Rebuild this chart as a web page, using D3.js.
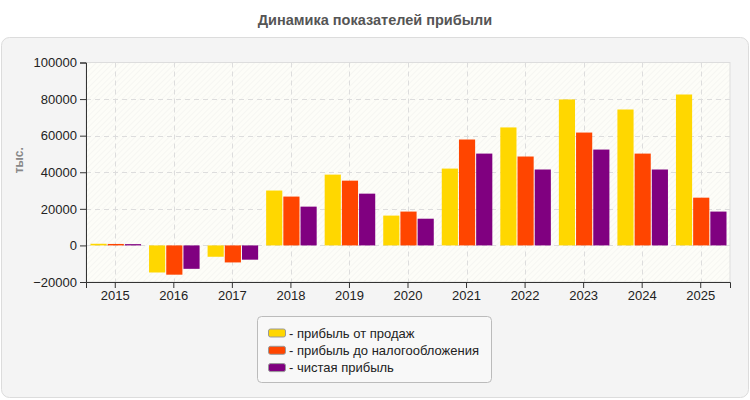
<!DOCTYPE html>
<html>
<head>
<meta charset="utf-8">
<script src="https://cdn.jsdelivr.net/npm/d3@7"></script>
<style>
	body { margin: 0; background: #fff; font-family: Arial, "Liberation Sans", sans-serif; }
	.tick text { font-size: 13px; fill: #222; font-family: Arial, "Liberation Sans", sans-serif; }
	.legend text { font-size: 13px; fill: #222; }
</style>
</head>
<body>
<div class="chart"></div>
<script>
const WIDTH = 750
const HEIGHT = 400

const years = ['2015', '2016', '2017', '2018', '2019', '2020', '2021', '2022', '2023', '2024', '2025']
const salesProfit = [900, -14800, -6200, 30000, 38700, 16300, 42000, 64500, 79800, 74300, 82500]
const pretaxProfit = [800, -16000, -9300, 26700, 35400, 18500, 57900, 48600, 61700, 50200, 26100]
const netProfit = [700, -12800, -7800, 21200, 28300, 14600, 50200, 41500, 52400, 41500, 18500]
const seriesNames = ['- прибыль от продаж', '- прибыль до налогообложения', '- чистая прибыль']
const COLORS = ['#ffd700', '#ff4500', '#800080']
const yTicks = [-20000, 0, 20000, 40000, 60000, 80000, 100000]

const series = [salesProfit, pretaxProfit, netProfit]
const data = years.map((y, i) => ({ year: y, values: series.map(s => s[i]) }))

const plot = { left: 86, right: 730, top: 62.5, bottom: 282 }

const svg = d3.select('.chart').append('svg')
	.attr('width', WIDTH)
	.attr('height', HEIGHT)

const defs = svg.append('defs')
const pattern = defs.append('pattern')
	.attr('id', 'hatch')
	.attr('patternUnits', 'userSpaceOnUse')
	.attr('width', 4)
	.attr('height', 4)
	.attr('patternTransform', 'rotate(45)')
pattern.append('rect').attr('width', 4).attr('height', 4).attr('fill', '#fdfdf8')
pattern.append('line')
	.attr('x1', 0).attr('y1', 0).attr('x2', 0).attr('y2', 4)
	.attr('stroke', '#f2f2ee').attr('stroke-width', 1.2)

// title
svg.append('text')
	.attr('x', WIDTH / 2)
	.attr('y', 25)
	.attr('text-anchor', 'middle')
	.style('font-size', '14.5px')
	.style('font-weight', 'bold')
	.style('fill', '#555')
	.text('Динамика показателей прибыли')

// panel
svg.append('rect')
	.attr('x', 1.5).attr('y', 37.5)
	.attr('width', WIDTH - 3).attr('height', HEIGHT - 40)
	.attr('rx', 8)
	.attr('fill', '#f4f4f4')
	.attr('stroke', '#dcdcdc')

const x = d3.scaleBand()
	.domain(years)
	.range([plot.left, plot.right])
	.padding(0)

const x1 = d3.scaleBand()
	.domain(d3.range(series.length))
	.range([4.5, x.bandwidth() - 3.5])
	.paddingInner(0.06)

const y = d3.scaleLinear()
	.domain([-20000, 100000])
	.range([plot.bottom, plot.top])

// plot background
svg.append('rect')
	.attr('x', plot.left).attr('y', plot.top)
	.attr('width', plot.right - plot.left).attr('height', plot.bottom - plot.top)
	.attr('fill', 'url(#hatch)')
	.attr('stroke', '#dddddd')

// grid
const grid = svg.append('g').attr('class', 'grid')
grid.selectAll('.hgrid').data(yTicks.slice(1, -1).concat([0]))
	.join('line')
	.attr('x1', plot.left).attr('x2', plot.right)
	.attr('y1', d => Math.round(y(d)) + 0.5).attr('y2', d => Math.round(y(d)) + 0.5)
	.attr('stroke', '#dddddd')
	.attr('stroke-dasharray', '5,4')
grid.selectAll('.vgrid').data(years)
	.join('line')
	.attr('x1', d => Math.round(x(d) + x.bandwidth() / 2) + 0.5)
	.attr('x2', d => Math.round(x(d) + x.bandwidth() / 2) + 0.5)
	.attr('y1', plot.top).attr('y2', plot.bottom)
	.attr('stroke', '#dddddd')
	.attr('stroke-dasharray', '5,4')

// bars
const groups = svg.append('g').selectAll('g')
	.data(data)
	.join('g')
	.attr('transform', d => `translate(${x(d.year)},0)`)

groups.selectAll('rect')
	.data(d => d.values)
	.join('rect')
	.attr('x', (d, i) => x1(i))
	.attr('width', x1.bandwidth())
	.attr('y', d => y(Math.max(0, d)))
	.attr('height', d => Math.abs(y(d) - y(0)))
	.attr('fill', (d, i) => COLORS[i])

// axes
const axisY = svg.append('g')
	.attr('transform', `translate(${plot.left},0)`)
	.call(d3.axisLeft(y).tickValues(yTicks).tickFormat(d3.format('d')).tickSizeOuter(0).tickSize(6))
axisY.select('.domain').attr('stroke', '#333')
axisY.selectAll('.tick line').attr('stroke', '#333')
axisY.selectAll('.tick text').attr('x', -9)

const axisX = svg.append('g')
	.attr('transform', `translate(0,${plot.bottom})`)
	.call(d3.axisBottom(x).tickSizeOuter(0).tickSize(6))
axisX.select('.domain').attr('stroke', '#333')
axisX.selectAll('.tick line').attr('stroke', '#333')
axisX.selectAll('.tick text').attr('y', 9)

svg.append('text')
	.attr('transform', `translate(23,${(plot.top + plot.bottom) / 2 - 12}) rotate(-90)`)
	.attr('text-anchor', 'middle')
	.style('font-size', '12px')
	.style('font-weight', 'bold')
	.style('fill', '#888')
	.text('тыс.')

// legend
const legend = svg.append('g').attr('class', 'legend')
legend.append('rect')
	.attr('x', 257.5).attr('y', 316.5)
	.attr('width', 234).attr('height', 66)
	.attr('rx', 4)
	.attr('fill', '#f8f8f8')
	.attr('stroke', '#bbb')

const item = legend.selectAll('.item')
	.data(seriesNames)
	.join('g')
	.attr('class', 'item')
	.attr('transform', (d, i) => `translate(268,${333 + i * 17.3})`)
item.append('rect')
	.attr('x', 0.5).attr('y', -4)
	.attr('width', 17).attr('height', 8)
	.attr('rx', 2)
	.attr('fill', (d, i) => COLORS[i])
	.attr('stroke', '#999')
item.append('text')
	.attr('x', 21)
	.attr('dy', '0.35em')
	.text(d => d)
</script>
</body>
</html>
